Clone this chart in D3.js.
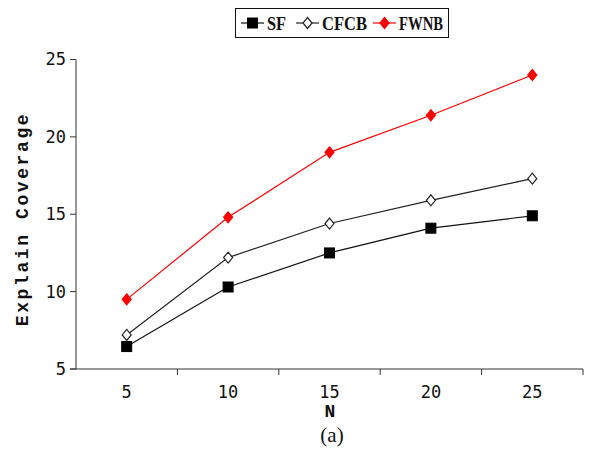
<!DOCTYPE html>
<html lang="en">
<head>
<meta charset="utf-8">
<title>Explain Coverage</title>
<script src="https://d3js.org/d3.v7.min.js"></script>
<style>
  body { margin: 0; background: #fff; }
  svg { display: block; }
  .tick-label { font-family: "DejaVu Sans Mono", monospace; font-size: 17px; fill: #111; }
  .axis-title { font-family: "Liberation Mono", "Courier New", Cousine, Courier, monospace; font-weight: bold; font-size: 18px; fill: #111; }
  .legend-text { font-family: "Liberation Serif", "Times New Roman", serif; font-weight: bold; font-size: 19px; fill: #111; }
</style>
</head>
<body>
<svg width="607" height="450"></svg>
<script>
// data
const nValues = ["5", "10", "15", "20", "25"];
const sfValues = [6.45, 10.3, 12.5, 14.1, 14.9];
const cfcbValues = [7.2, 12.2, 14.4, 15.9, 17.3];
const fwnbValues = [9.5, 14.8, 19.0, 21.4, 24.0];
const yTicks = [5, 10, 15, 20, 25];

const series = [
  {name: "SF", values: sfValues, color: "#111", marker: "square", fill: "#000"},
  {name: "CFCB", values: cfcbValues, color: "#222", marker: "diamond", fill: "#fff"},
  {name: "FWNB", values: fwnbValues, color: "#ff0000", marker: "diamond", fill: "#ff0000"}
];

const svg = d3.select("svg");

const x = d3.scaleBand().domain(nValues).range([76, 583]);
const y = d3.scaleLinear().domain([5, 25]).range([369, 59.5]);

// axes
svg.append("line")
  .attr("x1", 76).attr("x2", 76)
  .attr("y1", y(25)).attr("y2", y(5))
  .attr("stroke", "#333");
svg.append("line")
  .attr("x1", 70).attr("x2", 583)
  .attr("y1", y(5)).attr("y2", y(5))
  .attr("stroke", "#333");

// y ticks point outward
svg.selectAll(".ytick").data(yTicks).enter().append("line")
  .attr("x1", 70).attr("x2", 76)
  .attr("y1", d => y(d)).attr("y2", d => y(d))
  .attr("stroke", "#333");
svg.selectAll(".ylab").data(yTicks).enter().append("text")
  .attr("class", "tick-label")
  .attr("x", 66).attr("y", d => y(d))
  .attr("dy", "0.35em")
  .attr("text-anchor", "end")
  .text(d => d);

// x ticks sit between the categories
svg.selectAll(".xtick").data(d3.range(1, nValues.length + 1)).enter().append("line")
  .attr("x1", i => 76 + x.step() * i).attr("x2", i => 76 + x.step() * i)
  .attr("y1", y(5)).attr("y2", y(5) + 6)
  .attr("stroke", "#333");
svg.selectAll(".xlab").data(nValues).enter().append("text")
  .attr("class", "tick-label")
  .attr("x", d => x(d) + x.bandwidth() / 2)
  .attr("y", 398)
  .attr("text-anchor", "middle")
  .text(d => d);

svg.append("text")
  .attr("class", "axis-title")
  .attr("x", 330).attr("y", 417)
  .attr("text-anchor", "middle")
  .text("N");

svg.append("text")
  .attr("class", "axis-title")
  .attr("transform", "translate(28,219) rotate(-90)")
  .attr("text-anchor", "middle")
  .attr("letter-spacing", "2.6px")
  .text("Explain Coverage");

svg.append("text")
  .attr("x", 332).attr("y", 442)
  .attr("text-anchor", "middle")
  .attr("font-family", "Liberation Serif, serif")
  .attr("font-size", "21px")
  .attr("fill", "#111")
  .text("(a)");

function drawMarker(g, s, cx, cy) {
  if (s.marker === "square") {
    g.append("rect")
      .attr("x", cx - 5).attr("y", cy - 5)
      .attr("width", 10).attr("height", 10)
      .attr("fill", s.fill).attr("stroke", s.fill);
  } else {
    g.append("path")
      .attr("d", `M${cx},${cy - 5.5}L${cx + 4.5},${cy}L${cx},${cy + 5.5}L${cx - 4.5},${cy}Z`)
      .attr("fill", s.fill)
      .attr("stroke", s.color)
      .attr("stroke-width", 1.2);
  }
}

const line = d3.line()
  .x((d, i) => x(nValues[i]) + x.bandwidth() / 2)
  .y(d => y(d));

series.forEach(s => {
  const g = svg.append("g");
  g.append("path")
    .attr("d", line(s.values))
    .attr("fill", "none")
    .attr("stroke", s.color)
    .attr("stroke-width", 1.2);
  s.values.forEach((v, i) => drawMarker(g, s, x(nValues[i]) + x.bandwidth() / 2, y(v)));
});

// legend
svg.append("rect")
  .attr("x", 235.5).attr("y", 8.5)
  .attr("width", 213).attr("height", 29)
  .attr("fill", "#fff")
  .attr("stroke", "#111");

const legendX = [241, 296, 373];
const legendTextW = [19, 45, 44];
series.forEach((s, i) => {
  const g = svg.append("g");
  const lx = legendX[i];
  g.append("line")
    .attr("x1", lx).attr("x2", lx + 23)
    .attr("y1", 23).attr("y2", 23)
    .attr("stroke", s.color)
    .attr("stroke-width", 1.2);
  drawMarker(g, s, lx + 11.5, 23);
  g.append("text")
    .attr("class", "legend-text")
    .attr("x", lx + 26).attr("y", 29.5)
    .attr("textLength", legendTextW[i])
    .attr("lengthAdjust", "spacingAndGlyphs")
    .text(s.name);
});
</script>
</body>
</html>
